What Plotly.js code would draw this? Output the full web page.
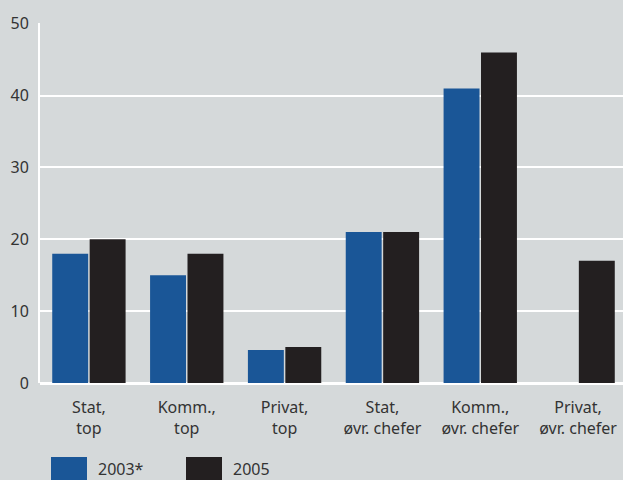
<!DOCTYPE html>
<html>
<head>
<meta charset="utf-8">
<script src="https://cdn.plot.ly/plotly-3.0.1.min.js"></script>
<style>html,body{margin:0;padding:0;background:#d5d9da;}#chart{width:623px;height:480px;}</style>
</head>
<body>
<div id="chart"></div>
<script>
const categories = ["Stat,<br>top", "Komm.,<br>top", "Privat,<br>top", "Stat,<br>øvr. chefer", "Komm.,<br>øvr. chefer", "Privat,<br>øvr. chefer"];
const seriesNames = ["2003*", "2005"];
const values2003 = [18, 15, 4.6, 21, 41, null];
const values2005 = [20, 18, 5, 21, 46, 17];
const yTicks = [0, 10, 20, 30, 40, 50];

const colors = ["#1a5697", "#231f20"];
const bg = "#d5d9da";
const W = 623, H = 480;
const M = {l: 40, r: 0, t: 23, b: 97};
const pw = W - M.l - M.r, ph = H - M.t - M.b;
const px = x => (x - M.l) / pw;
const py = y => (H - M.b - y) / ph;

const font = {family: "Noto Sans, Open Sans, sans-serif", size: 16, color: "#333333"};

const traces = [values2003, values2005].map((v, i) => ({
  type: "bar",
  x: categories,
  y: v,
  name: seriesNames[i],
  marker: {color: colors[i], line: {width: 0}},
  showlegend: false,
  hoverinfo: "skip"
}));

const legendX = [[51, 87, 96], [186, 222, 231]];
const shapes = legendX.map((p, i) => ({
  type: "rect", xref: "paper", yref: "paper",
  x0: px(p[0]), x1: px(p[1]), y0: py(480), y1: py(457),
  fillcolor: colors[i], line: {width: 0}
}));
const annotations = legendX.map((p, i) => ({
  xref: "paper", yref: "paper", x: px(p[2]), y: py(469),
  xanchor: "left", yanchor: "middle", showarrow: false,
  text: seriesNames[i], font: font
}));

const layout = {
  width: W, height: H,
  margin: M,
  paper_bgcolor: bg, plot_bgcolor: bg,
  font: font,
  bargap: 0.235, bargroupgap: 0.04,
  barmode: "group",
  xaxis: {
    type: "category",
    range: [-0.5, 5.459],
    showgrid: false, zeroline: false,
    showline: false,
    ticks: "outside", ticklen: 10, tickcolor: "rgba(0,0,0,0)",
    tickfont: font, fixedrange: true
  },
  yaxis: {
    range: [0, 50.1],
    tickvals: yTicks, ticktext: yTicks.map(String),
    showgrid: true, gridcolor: "#ffffff", gridwidth: 2,
    zeroline: true, zerolinecolor: "#ffffff", zerolinewidth: 3,
    showline: true, linecolor: "#ffffff", linewidth: 2,
    ticks: "outside", ticklen: 6, tickcolor: "rgba(0,0,0,0)",
    tickfont: font, fixedrange: true
  },
  shapes: shapes,
  annotations: annotations
};

Plotly.newPlot("chart", traces, layout, {displayModeBar: false, staticPlot: true});
</script>
</body>
</html>
